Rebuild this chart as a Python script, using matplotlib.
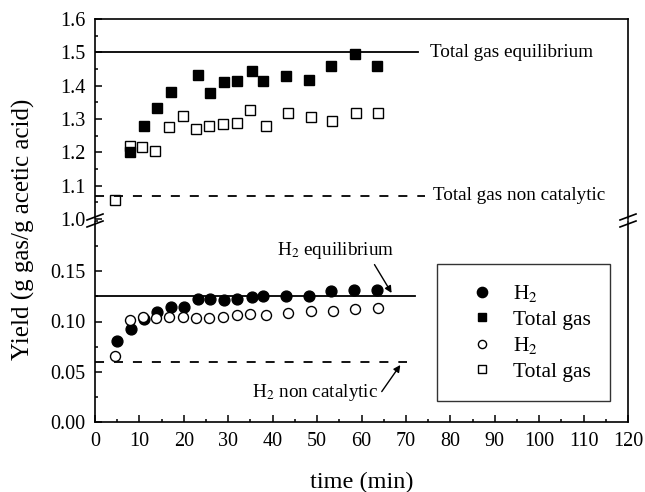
import matplotlib; matplotlib.use("Agg")
import matplotlib.pyplot as plt
from matplotlib.lines import Line2D
from matplotlib.ticker import MultipleLocator

plt.rcParams["font.family"] = ["Liberation Serif", "DejaVu Serif"]
plt.rcParams["mathtext.fontset"] = "stix"

# --- data ---
t_tot_cat = [7.9, 11.0, 14.0, 17.1, 23.2, 26.0, 29.1, 32.0, 35.3, 37.9, 42.9, 48.2, 53.1, 58.6, 63.6]
tot_cat   = [1.20, 1.28, 1.334, 1.382, 1.432, 1.379, 1.412, 1.414, 1.444, 1.415, 1.430, 1.417, 1.459, 1.494, 1.460]

t_tot_nc = [4.5, 7.9, 10.5, 13.5, 16.7, 19.7, 22.7, 25.7, 28.8, 31.9, 34.8, 38.4, 43.5, 48.6, 53.3, 58.7, 63.8]
tot_nc   = [1.057, 1.219, 1.217, 1.205, 1.275, 1.309, 1.270, 1.280, 1.285, 1.289, 1.327, 1.280, 1.319, 1.305, 1.293, 1.317, 1.317]

t_h2_cat = [4.9, 8.1, 11.0, 13.9, 17.0, 20.1, 23.3, 26.0, 29.1, 32.0, 35.3, 37.9, 42.9, 48.2, 53.1, 58.3, 63.6]
h2_cat   = [0.081, 0.093, 0.102, 0.109, 0.114, 0.114, 0.122, 0.122, 0.121, 0.122, 0.124, 0.125, 0.125, 0.125, 0.130, 0.131, 0.131]

t_h2_nc = [4.5, 7.9, 10.7, 13.8, 16.7, 19.7, 22.7, 25.7, 28.8, 31.9, 34.8, 38.4, 43.5, 48.6, 53.5, 58.6, 63.7]
h2_nc   = [0.066, 0.101, 0.104, 0.103, 0.104, 0.104, 0.103, 0.103, 0.104, 0.106, 0.107, 0.106, 0.108, 0.110, 0.110, 0.112, 0.113]

tot_eq, tot_noncat = 1.50, 1.07
h2_eq, h2_noncat = 0.125, 0.06

W, H = 645, 492
fig = plt.figure(figsize=(W/100, H/100), dpi=100)
L, R = 95/W, 628/W
ax1 = fig.add_axes([L, (H-219)/H, R-L, 200/H])
ax2 = fig.add_axes([L, (H-422)/H, R-L, 201/H])

ms = 7.4
ax1.plot(t_tot_nc, tot_nc, ls="none", marker="s", ms=ms, mfc="white", mec="black", mew=1.0)
ax1.plot(t_tot_cat, tot_cat, ls="none", marker="s", ms=ms, color="black")
ax1.plot([0, 72.7], [tot_eq, tot_eq], color="black", lw=1.3)
ax1.plot([0, 74.3], [tot_noncat, tot_noncat], color="black", lw=1.3, ls=(0, (5, 5.5)))
ax1.text(75.5, tot_eq, "Total gas equilibrium", fontsize=13.8, va="center", ha="left")
ax1.text(76.1, tot_noncat, "Total gas non catalytic", fontsize=13.8, va="center", ha="left")

ax2.plot(t_h2_cat, h2_cat, ls="none", marker="o", ms=ms+0.4, color="black")
ax2.plot(t_h2_nc, h2_nc, ls="none", marker="o", ms=ms-0.2, mfc="white", mec="black", mew=1.0)
ax2.plot([0, 72.0], [h2_eq, h2_eq], color="black", lw=1.3)
ax2.plot([0, 70.2], [h2_noncat, h2_noncat], color="black", lw=1.3, ls=(0, (5, 5.5)))
ax2.text(41.0, 0.171, "H$_2$ equilibrium", fontsize=13.8, va="center", ha="left")
ax2.annotate("", xy=(67.1, 0.126), xytext=(62.6, 0.159),
             arrowprops=dict(arrowstyle="-|>", color="black", lw=1.0, mutation_scale=10))
ax2.text(35.4, 0.029, "H$_2$ non catalytic", fontsize=13.8, va="center", ha="left")
ax2.annotate("", xy=(69.1, 0.059), xytext=(64.2, 0.028),
             arrowprops=dict(arrowstyle="-|>", color="black", lw=1.0, mutation_scale=10))

for ax in (ax1, ax2):
    ax.set_xlim(0, 120)
    for s in ax.spines.values():
        s.set_linewidth(1.2)
    ax.tick_params(which="both", direction="in", right=False, top=False, labelsize=14.5, width=1.1)
    ax.tick_params(which="major", length=5)
    ax.tick_params(which="minor", length=2.5)
    ax.tick_params(axis="y", which="both", pad=7)

ax1.set_ylim(1.0, 1.6)
ax1.yaxis.set_major_locator(MultipleLocator(0.1))
ax1.yaxis.set_minor_locator(MultipleLocator(0.05))
ax1.yaxis.set_major_formatter(lambda v, p: f"{v:.1f}")
ax1.spines["bottom"].set_visible(False)
ax1.tick_params(axis="x", which="both", bottom=False, labelbottom=False)

ax2.set_ylim(0, 0.2)
ax2.set_yticks([0, 0.05, 0.10, 0.15])
ax2.yaxis.set_minor_locator(MultipleLocator(0.025))
ax2.yaxis.set_major_formatter(lambda v, p: f"{v:.2f}")
ax2.spines["top"].set_visible(False)
ax2.xaxis.set_major_locator(MultipleLocator(10))
ax2.xaxis.set_minor_locator(MultipleLocator(5))
ax2.tick_params(axis="x", which="both", pad=7)
ax2.set_xlabel("time (min)", fontsize=17.5, labelpad=15)

fig.text(23/W, 1 - 229/H, "Yield (g gas/g acetic acid)", rotation=90, fontsize=18,
         ha="center", va="center")

# legend
handles = [
    Line2D([], [], ls="none", marker="o", ms=ms, color="black"),
    Line2D([], [], ls="none", marker="s", ms=ms-1.2, color="black"),
    Line2D([], [], ls="none", marker="o", ms=ms-1.5, mfc="white", mec="black"),
    Line2D([], [], ls="none", marker="s", ms=ms-2, mfc="white", mec="black"),
]
labels = ["H$_2$", "Total gas", "H$_2$", "Total gas"]
leg = ax2.legend(handles, labels, loc="center", bbox_to_anchor=(0.804, 0.445), fontsize=15.5,
                 frameon=True, fancybox=False, edgecolor="black", handlelength=2.4,
                 handletextpad=0.26, labelspacing=0.25, borderpad=0.9, numpoints=1)
leg.get_frame().set_linewidth(1.0)

# break marks on the y spines
yb = 1 - 220/H
for xs in (L, R):
    for dy in (-4, 3):
        fig.add_artist(Line2D([xs - 8/W, xs + 8/W], [yb + (dy - 3)/H, yb + (dy + 3)/H],
                              color="black", lw=1.2))

fig.savefig("out.png", dpi=100)
